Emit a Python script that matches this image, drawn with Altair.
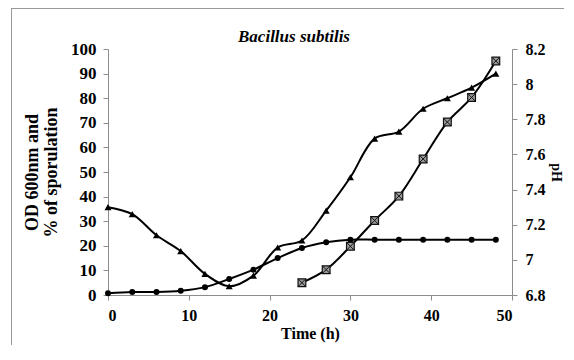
import altair as alt
import pandas as pd

# ---- data ----
time = [0, 3, 6, 9, 12, 15, 18, 21, 24, 27, 30, 33, 36, 39, 42, 45, 48]
ph = [7.30, 7.26, 7.14, 7.05, 6.92, 6.85, 6.91, 7.07, 7.11, 7.28, 7.47, 7.69, 7.73, 7.86, 7.92, 7.98, 8.06]
od = [0.7, 1.2, 1.2, 1.7, 3.2, 6.5, 10.3, 15.0, 19.1, 21.4, 22.5, 22.5, 22.5, 22.5, 22.5, 22.5, 22.5]
spor_time = [24, 27, 30, 33, 36, 39, 42, 45, 48]
spor = [5.0, 10.3, 19.8, 30.3, 40.2, 55.3, 70.3, 80.3, 95.1]

left_ticks = [0, 10, 20, 30, 40, 50, 60, 70, 80, 90, 100]
right_ticks = [6.8, 7.0, 7.2, 7.4, 7.6, 7.8, 8.0, 8.2]
x_ticks = [0, 10, 20, 30, 40, 50]
title_text = "Bacillus subtilis"

df_od = pd.DataFrame({"time": time, "value": od})
df_sp = pd.DataFrame({"time": spor_time, "value": spor})
df_ph = pd.DataFrame({"time": time, "ph": ph})

FONT = "Liberation Serif"
AX = "#8c8c8c"

x_enc = alt.X(
    "time:Q",
    scale=alt.Scale(domain=[0, 50], nice=False),
    axis=alt.Axis(
        title="Time (h)", values=x_ticks, grid=False, domainColor=AX, tickColor=AX,
        tickSize=5, labelPadding=7, titlePadding=2, labelFontSize=16, titleFontSize=16,
    ),
)

left_axis = alt.Axis(
    title=["OD 600nm and", "% of sporulation"], values=left_ticks, grid=False,
    domainColor=AX, tickColor=AX, tickSize=5, labelPadding=7, titlePadding=10,
    titleLineHeight=19, orient="left", labelFontSize=17, titleFontSize=18,
)
y_left = alt.Y("value:Q", scale=alt.Scale(domain=[0, 100], nice=False), axis=left_axis)

right_axis = alt.Axis(
    title="pH", values=right_ticks, grid=False, domainColor=AX, tickColor=AX,
    tickSize=5, labelPadding=8, titlePadding=3, orient="right",
    labelFontSize=16, titleFontSize=14,
    labelExpr="toString(round(datum.value*10)/10)",
)
y_right = alt.Y("ph:Q", scale=alt.Scale(domain=[6.8, 8.2], nice=False), axis=right_axis)

LINE = dict(color="black", strokeWidth=2, interpolate="catmull-rom")

od_line = alt.Chart(df_od).mark_line(**LINE).encode(x=x_enc, y=y_left)
od_pts = alt.Chart(df_od).mark_point(shape="circle", filled=True, color="black", size=36, opacity=1).encode(x=x_enc, y=y_left)

sp_line = alt.Chart(df_sp).mark_line(**LINE).encode(x=x_enc, y=y_left)
sp_sq = alt.Chart(df_sp).mark_point(shape="square", filled=True, fill="#9a9a9a", stroke="#111", strokeWidth=1.2, size=60, opacity=1).encode(x=x_enc, y=y_left)
sp_x = alt.Chart(df_sp).mark_point(shape="M-1,-1L1,1M-1,1L1,-1", filled=False, stroke="#111", strokeWidth=1, size=60, opacity=1).encode(x=x_enc, y=y_left)

ph_line = alt.Chart(df_ph).mark_line(**LINE).encode(x=x_enc, y=y_right)
ph_pts = alt.Chart(df_ph).mark_point(shape="triangle-up", filled=True, color="black", size=50, opacity=1).encode(x=x_enc, y=y_right)

one = pd.DataFrame({"a": [0]})
frame_top = alt.Chart(one).mark_rule(color="#999999", strokeWidth=1).encode(
    x=alt.value(-97), x2=alt.value(470), y=alt.value(-40.5)
)
frame_left = alt.Chart(one).mark_rule(color="#999999", strokeWidth=1).encode(
    x=alt.value(-96.5), y=alt.value(-41), y2=alt.value(300)
)

title_mark = alt.Chart(pd.DataFrame({"t": [title_text]})).mark_text(
    font=FONT, fontStyle="italic", fontWeight="bold",
    fontSize=17, color="black", align="center", baseline="alphabetic",
).encode(text="t:N", x=alt.value(186), y=alt.value(-7))

left = alt.layer(od_line, sp_line, od_pts, sp_sq, sp_x)
right = alt.layer(ph_line, ph_pts)

chart = alt.layer(frame_top, frame_left, title_mark, left, right).resolve_scale(y="independent").properties(
    width=404,
    height=246,
    padding={"left": 100, "top": 41, "right": 52, "bottom": 50},
    autosize=alt.AutoSizeParams(type="none"),
    background="white",
).configure_view(stroke=None).configure_axis(
    labelFont=FONT, labelFontWeight="bold", labelColor="black",
    titleFont=FONT, titleFontWeight="bold", titleColor="black",
    domainWidth=1, tickWidth=1,
)

chart.save("out.html", embed_options={"renderer": "svg", "actions": False})
